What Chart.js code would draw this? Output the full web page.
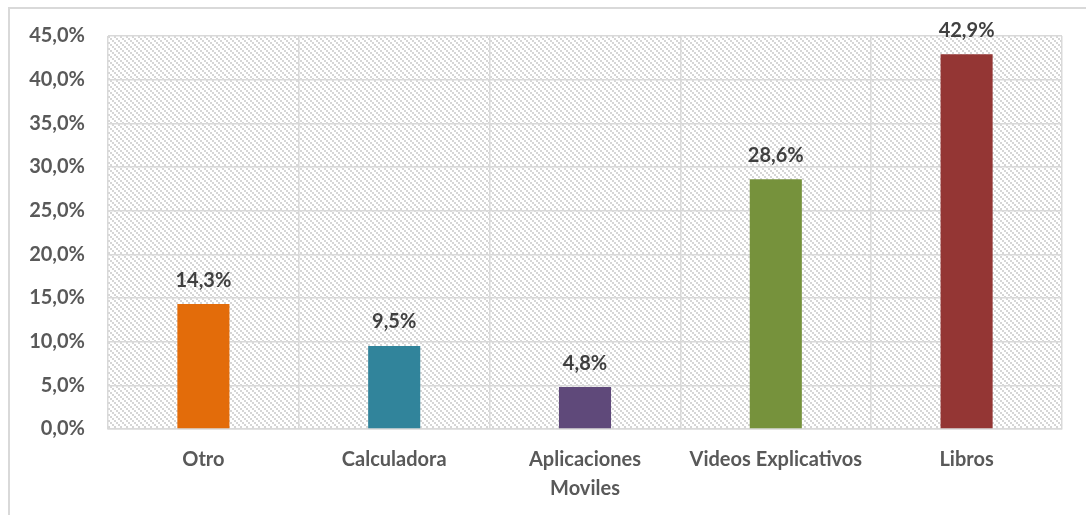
<!DOCTYPE html>
<html>
<head>
<meta charset="utf-8">
<script src="https://cdn.jsdelivr.net/npm/chart.js@4/dist/chart.umd.min.js"></script>
<style>
  html, body { margin: 0; padding: 0; background: #fff; }
  #wrap { position: relative; width: 1086px; height: 515px; overflow: hidden; }
  #frame { position: absolute; left: 8px; top: 7px; width: 1200px; height: 600px;
           border-left: 2px solid #d9d9d9; border-top: 2px solid #d9d9d9; }
  canvas { position: absolute; left: 0; top: 0; }
</style>
</head>
<body>
<div id="wrap">
  <div id="frame"></div>
  <canvas id="chart" width="1086" height="515"></canvas>
</div>
<script>
// datos
const categories = ['Otro', 'Calculadora', ['Aplicaciones', 'Moviles'], 'Videos Explicativos', 'Libros'];
const percents = [14.3, 9.5, 4.8, 28.6, 42.9];
const barColors = ['#E36C0A', '#31849B', '#5F497A', '#76923C', '#943634'];
const yTicks = [0, 5, 10, 15, 20, 25, 30, 35, 40, 45];

function pct(v) {
    return v.toFixed(1).replace('.', ',') + '%';
}

// trama diagonal del area de trazado
function makeHatch() {
    const c = document.createElement('canvas');
    c.width = 6; c.height = 6;
    const g = c.getContext('2d');
    g.fillStyle = '#ffffff';
    g.fillRect(0, 0, 6, 6);
    g.fillStyle = '#d6d6d6';
    [[0, 0], [2, 2], [4, 4]].forEach(p => g.fillRect(p[0], p[1], 2, 2));
    return g.createPattern(c, 'repeat');
}

const hatchPlugin = {
    id: 'hatch',
    beforeDraw(chart) {
        const a = chart.chartArea;
        const ctx = chart.ctx;
        ctx.save();
        ctx.fillStyle = makeHatch();
        ctx.fillRect(a.left, a.top, a.right - a.left, a.bottom - a.top);
        ctx.restore();
    }
};

const labelPlugin = {
    id: 'barLabels',
    afterDatasetsDraw(chart) {
        const ctx = chart.ctx;
        const meta = chart.getDatasetMeta(0);
        ctx.save();
        ctx.font = 'bold 20px Lato';
        ctx.fillStyle = '#404040';
        ctx.textAlign = 'center';
        ctx.textBaseline = 'middle';
        meta.data.forEach((bar, i) => {
            ctx.fillText(pct(percents[i]), bar.x, bar.y - 24);
        });
        ctx.restore();
    }
};

new Chart(document.getElementById('chart').getContext('2d'), {
    type: 'bar',
    data: {
        labels: categories,
        datasets: [{
            data: percents,
            backgroundColor: barColors,
            borderWidth: 0,
            barPercentage: 0.273,
            categoryPercentage: 1
        }]
    },
    options: {
        responsive: false,
        animation: false,
        events: [],
        layout: { padding: { left: 0, top: 36, right: 24, bottom: 0 } },
        plugins: { legend: { display: false }, tooltip: { enabled: false } },
        scales: {
            x: {
                grid: { color: '#d9d9d9', lineWidth: 1.5, offset: true, drawTicks: false },
                border: { color: '#d9d9d9', width: 1.5 },
                ticks: { color: '#595959', font: { family: 'Lato', size: 20, weight: 'bold', lineHeight: 1.45 }, padding: 16, maxRotation: 0 },
                afterFit(s) { s.height = 86; }
            },
            y: {
                min: 0, max: 45,
                afterBuildTicks(s) { s.ticks = yTicks.map(v => ({ value: v })); },
                grid: { color: '#d9d9d9', lineWidth: 1.5, drawTicks: false },
                border: { display: false },
                ticks: { color: '#595959', font: { family: 'Lato', size: 20, weight: 'bold' }, padding: 23, callback: v => pct(v) },
                afterFit(s) { s.width = 108; }
            }
        }
    },
    plugins: [hatchPlugin, labelPlugin]
});
</script>
</body>
</html>
